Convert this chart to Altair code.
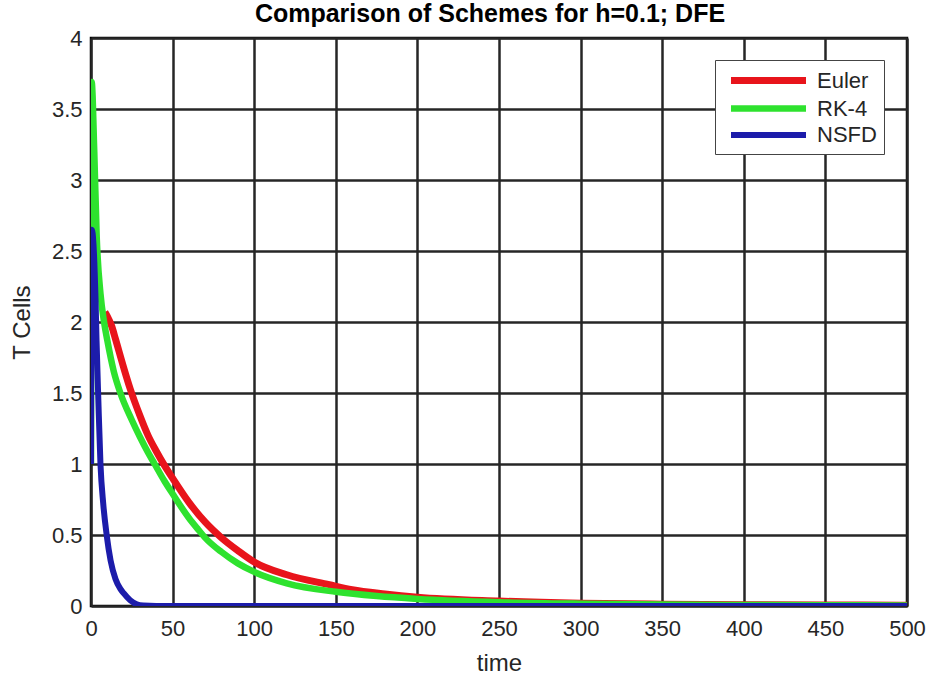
import altair as alt
import pandas as pd

# ---- data ----
names = ["Euler", "RK-4", "NSFD"]
colors = ["#e8141b", "#2ee22e", "#1c1caa"]
widths = [7, 6, 3]

euler_t = [8.5, 10, 12.7, 15, 20, 24, 30, 35, 40, 45, 50, 60, 70, 80, 90, 100,
           120, 146, 160, 180, 200, 250, 300, 350, 400, 450, 500]
euler_v = [2.07, 2.04, 1.97, 1.88, 1.68, 1.53, 1.34, 1.2, 1.09, 0.99, 0.9, 0.73,
           0.59, 0.48, 0.39, 0.31, 0.22, 0.15, 0.115, 0.085, 0.062, 0.035, 0.02,
           0.013, 0.009, 0.007, 0.006]

rk4_t = [0, 0.4, 2, 3.5, 5.8, 8, 10, 14, 18, 25, 30, 35, 39, 45, 50, 60, 65.6, 70,
         80, 90, 100, 120, 150, 175, 200, 250, 300, 350, 400, 450, 500]
rk4_v = [1.0, 3.69, 3.2, 2.6, 2.2, 2.0, 1.87, 1.65, 1.5, 1.31, 1.19, 1.08, 1.0, 0.88,
         0.79, 0.62, 0.54, 0.48, 0.38, 0.3, 0.24, 0.16, 0.1, 0.07, 0.05, 0.027, 0.016,
         0.01, 0.007, 0.005, 0.004]

nsfd_t = [0, 0.5, 1.5, 2.8, 3.4, 4.5, 5.8, 7.5, 9.6, 12, 15, 18, 20, 24, 28, 32, 40,
          60, 100, 200, 300, 400, 500]
nsfd_v = [1.0, 2.65, 2.55, 2.15, 1.87, 1.45, 1.0, 0.72, 0.5, 0.32, 0.19, 0.12, 0.09,
          0.04, 0.012, 0.003, 0, 0, 0, 0, 0, 0, 0]

x_ticks = list(range(0, 501, 50))
y_ticks = [0, 0.5, 1, 1.5, 2, 2.5, 3, 3.5, 4]

series = {"Euler": (euler_t, euler_v), "RK-4": (rk4_t, rk4_v), "NSFD": (nsfd_t, nsfd_v)}

FONT = "Liberation Sans"

x_enc = alt.X("time:Q", scale=alt.Scale(domain=[0, 500], nice=False),
              axis=alt.Axis(values=x_ticks, title="time", titleFontSize=24,
                            titleFontWeight="normal", titleBaseline="alphabetic",
                            titleY=64, labelPadding=12, labelFlush=False))
y_enc = alt.Y("value:Q", scale=alt.Scale(domain=[0, 4], nice=False),
              axis=alt.Axis(values=y_ticks, title="T Cells", titleFontSize=24,
                            titleFontWeight="normal", labelExpr="datum.value + ''",
                            titleX=-69, titleY=284, titleAngle=-90,
                            titleBaseline="middle", titleAlign="center",
                            labelPadding=9, labelFlush=False))

color_enc = alt.Color("scheme:N", scale=alt.Scale(domain=names, range=colors),
                      sort=names, title=None)
width_enc = alt.StrokeWidth("scheme:N", scale=alt.Scale(domain=names, range=widths),
                            sort=names, title=None)

layers = []
for n in names:
    t, v = series[n]
    df = pd.DataFrame({"time": t, "value": v, "scheme": n})
    layers.append(
        alt.Chart(df).mark_line(clip=True, interpolate="monotone").encode(
            x=x_enc, y=y_enc, color=color_enc, strokeWidth=width_enc
        )
    )

chart = alt.layer(*layers).properties(
    width=816,
    height=568,
    autosize=alt.AutoSizeParams(type="none"),
    padding={"left": 91, "top": 38, "right": 26, "bottom": 73},
    title=alt.TitleParams(
        "Comparison of Schemes for h=0.1; DFE", font=FONT, fontSize=25,
        fontWeight="bold", anchor="middle", dx=-9, dy=12, offset=12,
        color="black"),
).configure_view(
    stroke="black", strokeWidth=2.5
).configure_axis(
    grid=True, gridColor="#262626", gridWidth=2.5, gridOpacity=1,
    domain=False, ticks=False, labelFont=FONT, labelFontSize=22,
    labelColor="#262626", titleFont=FONT, titleColor="#262626",
).configure_legend(
    orient="none", legendX=624, legendY=22, symbolType="M-0.45,0H7.05",
    symbolSize=400, labelFont=FONT, labelFontSize=22, labelColor="#262626",
    padding=7, rowPadding=0, strokeColor="#444", fillColor="white",
    labelOffset=68, symbolOpacity=1,
)

chart.save("out.html", embed_options={"renderer": "svg", "actions": False})
